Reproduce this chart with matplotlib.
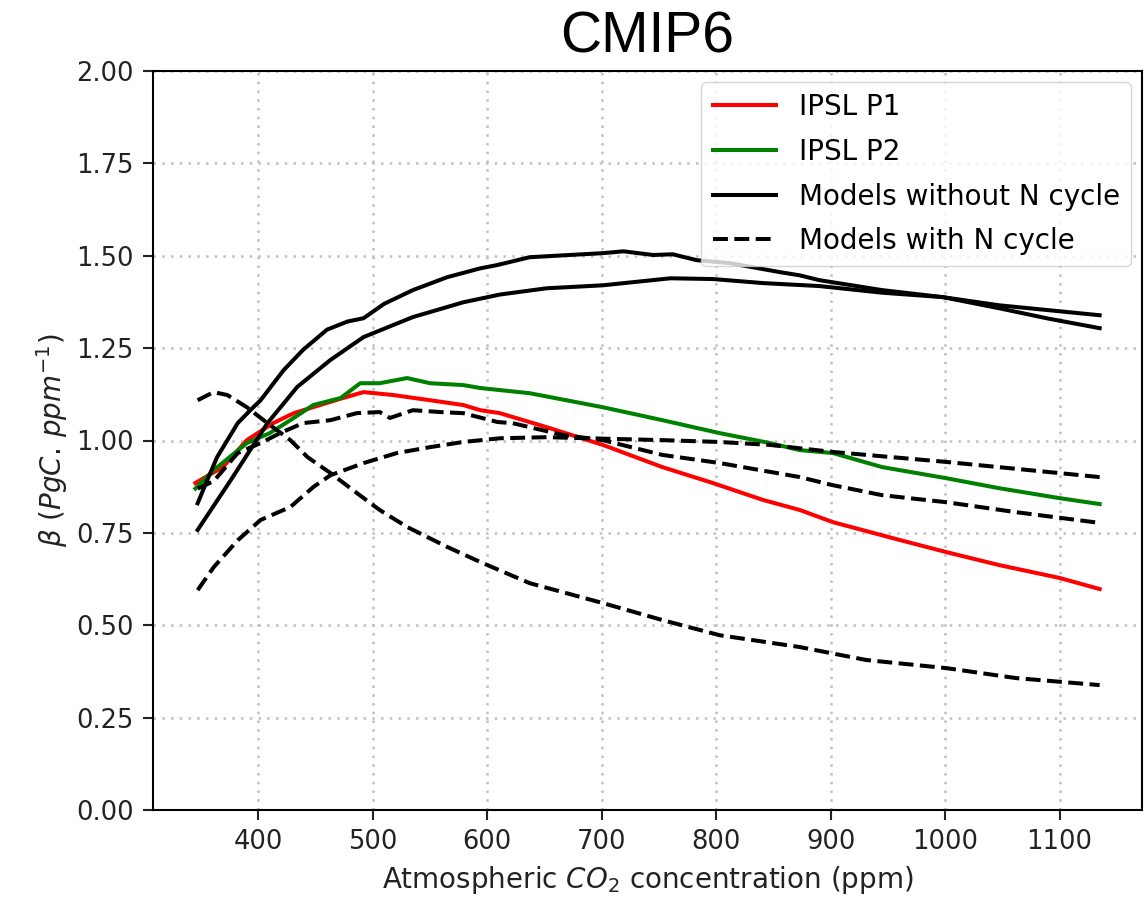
import matplotlib
matplotlib.use('Agg')
import matplotlib.pyplot as plt

# IPSL runs
p1_x = [345, 369, 390, 413, 431, 454, 474, 492, 518, 550, 579, 594, 611, 652, 701, 753, 797, 841, 873, 902, 960, 1001, 1047, 1100, 1135]
p1_y = [0.885, 0.928, 1.001, 1.047, 1.074, 1.096, 1.115, 1.131, 1.123, 1.109, 1.096, 1.082, 1.074, 1.036, 0.988, 0.928, 0.885, 0.839, 0.812, 0.779, 0.731, 0.698, 0.663, 0.628, 0.598]

p2_x = [345, 361, 390, 410, 428, 448, 472, 489, 506, 530, 550, 579, 594, 637, 701, 753, 803, 847, 873, 902, 945, 1001, 1047, 1100, 1135]
p2_y = [0.870, 0.920, 0.993, 1.020, 1.055, 1.096, 1.115, 1.155, 1.155, 1.169, 1.155, 1.150, 1.142, 1.128, 1.090, 1.055, 1.020, 0.993, 0.974, 0.966, 0.928, 0.898, 0.871, 0.844, 0.828]

# models without N cycle
noN1_x = [347, 355, 364, 382, 393, 402, 422, 439, 460, 478, 492, 510, 535, 565, 594, 609, 637, 660, 701, 719, 745, 762, 783, 812, 855, 873, 890, 945, 998, 1047, 1090, 1135]
noN1_y = [0.83, 0.89, 0.955, 1.047, 1.082, 1.109, 1.19, 1.245, 1.30, 1.322, 1.331, 1.37, 1.407, 1.442, 1.466, 1.475, 1.496, 1.50, 1.507, 1.512, 1.502, 1.504, 1.488, 1.480, 1.456, 1.447, 1.434, 1.407, 1.388, 1.358, 1.33, 1.304]

noN2_x = [347, 376, 408, 434, 463, 492, 535, 579, 611, 652, 701, 760, 797, 841, 890, 945, 998, 1047, 1135]
noN2_y = [0.758, 0.893, 1.047, 1.145, 1.218, 1.280, 1.334, 1.374, 1.395, 1.412, 1.420, 1.439, 1.437, 1.426, 1.418, 1.400, 1.388, 1.366, 1.339]

# models with N cycle
withN1_x = [347, 361, 373, 390, 408, 428, 443, 463, 486, 506, 530, 565, 594, 637, 701, 753, 803, 873, 931, 1001, 1062, 1135]
withN1_y = [1.109, 1.131, 1.123, 1.09, 1.047, 1.001, 0.955, 0.912, 0.858, 0.812, 0.766, 0.712, 0.671, 0.614, 0.560, 0.514, 0.473, 0.441, 0.406, 0.384, 0.357, 0.338]

withN2_x = [347, 361, 382, 402, 419, 439, 463, 486, 506, 515, 535, 559, 579, 609, 622, 666, 701, 753, 803, 873, 902, 945, 1001, 1062, 1135]
withN2_y = [0.87, 0.89, 0.966, 0.993, 1.02, 1.047, 1.055, 1.074, 1.077, 1.061, 1.082, 1.077, 1.074, 1.05, 1.047, 1.015, 1.001, 0.961, 0.939, 0.901, 0.879, 0.852, 0.833, 0.806, 0.777]

withN3_x = [347, 361, 382, 402, 428, 448, 463, 492, 521, 550, 579, 611, 652, 701, 753, 803, 847, 873, 902, 1001, 1135]
withN3_y = [0.595, 0.657, 0.730, 0.785, 0.820, 0.874, 0.906, 0.939, 0.966, 0.982, 0.996, 1.006, 1.009, 1.005, 1.001, 0.996, 0.988, 0.979, 0.969, 0.942, 0.901]

lw = 2.9

fig = plt.figure(figsize=(11.44, 8.99), dpi=100)
ax = fig.add_axes([153/1144, 89/899, 989/1144, 739/899])

ax.plot(p1_x, p1_y, color='red', lw=lw, label='IPSL P1')
ax.plot(p2_x, p2_y, color='green', lw=lw, label='IPSL P2')
ax.plot(noN1_x, noN1_y, color='black', lw=lw, label='Models without N cycle')
ax.plot(noN2_x, noN2_y, color='black', lw=lw)
ax.plot(withN1_x, withN1_y, color='black', lw=lw, ls='--', label='Models with N cycle')
ax.plot(withN2_x, withN2_y, color='black', lw=lw, ls='--')
ax.plot(withN3_x, withN3_y, color='black', lw=lw, ls='--')

ax.set_xlim(308, 1172)
ax.set_ylim(0, 2)
ax.set_xticks([400, 500, 600, 700, 800, 900, 1000, 1100])
ax.set_yticks([0, 0.25, 0.5, 0.75, 1.0, 1.25, 1.5, 1.75, 2.0])
ax.grid(True, linestyle=(0, (1, 2.5)), color='#c0c0c0', lw=1.8)
ax.tick_params(labelsize=18.5, length=7, width=1.5, pad=7, colors='#222222')
for s in ax.spines.values():
    s.set_linewidth(1.5)

ax.set_xlabel('Atmospheric $CO_2$ concentration (ppm)', fontsize=20, color='#222222', labelpad=6)
ax.set_ylabel(r'$\beta\ (PgC.\,ppm^{-1})$', fontsize=20, color='#222222', labelpad=4)
ax.set_title('CMIP6', fontsize=41, family='Liberation Sans', pad=13)

ax.legend(loc='upper right', fontsize=20, handlelength=2.3, labelspacing=0.6, borderaxespad=0.4)

fig.savefig('out.png', dpi=100)
